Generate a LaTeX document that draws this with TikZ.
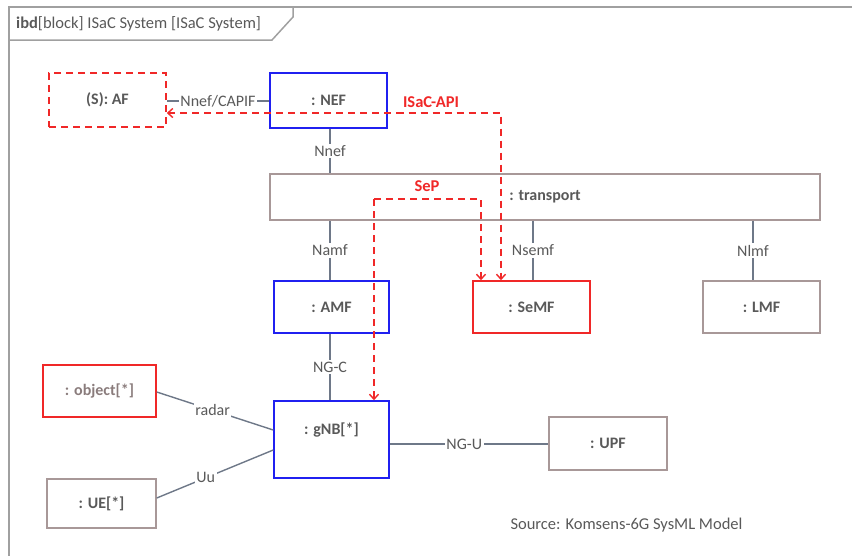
\documentclass[tikz,border=0pt]{standalone}
\usepackage{fontspec}
\setmainfont{Carlito}
\usetikzlibrary{arrows.meta}
\definecolor{boxgray}{HTML}{A89898}
\definecolor{txtgray}{HTML}{595959}
\definecolor{objgray}{HTML}{8A7C7C}
\definecolor{linegray}{HTML}{6E7888}
\definecolor{myblue}{HTML}{2020F0}
\definecolor{myred}{HTML}{F02828}
\definecolor{framegray}{HTML}{A0A0A0}
\tikzset{
  part/.style={draw=boxgray, line width=1.5pt, text=txtgray, font=\bfseries\fontsize{16}{18}\selectfont, inner sep=0pt},
  bluepart/.style={part, draw=myblue},
  redpart/.style={part, draw=myred},
  conn/.style={draw=linegray, line width=1.4pt},
  clabel/.style={fill=white, text=txtgray, font=\fontsize{16}{18}\selectfont, inner sep=1.5pt},
  redflow/.style={draw=myred, line width=1.5pt, dash pattern=on 7pt off 5pt, -{Straight Barb[length=5pt,width=9pt,line width=1.4pt]}},
  redlabel/.style={text=myred, font=\bfseries\fontsize{16.5}{18}\selectfont}
}
\begin{document}
\begin{tikzpicture}[x=1pt,y=-1pt]
\useasboundingbox (0,0) rectangle (852,555);
% frame
\draw[framegray, line width=2.2pt] (9,556) -- (9,7) -- (853,7);
\draw[framegray, line width=1.5pt] (9,40) -- (272,40) -- (293,17) -- (293,7);
\node[anchor=west, text=txtgray, font=\fontsize{16.5}{18}\selectfont, inner sep=0pt] (title) at (16,24) {\textbf{ibd}[block] ISaC System [ISaC System]};
% parts
\node[redpart, dash pattern=on 7pt off 5pt, minimum width=117, minimum height=54] (af) at (107.5,100) {(S): AF};
\node[bluepart, minimum width=117, minimum height=55] (nef) at (328.5,100.5) {: NEF};
\node[part, minimum width=550, minimum height=46] (tr) at (545,197) {: transport};
\node[bluepart, minimum width=115, minimum height=52] (amf) at (331.5,307) {: AMF};
\node[redpart, minimum width=117, minimum height=52] (semf) at (531.5,307) {: SeMF};
\node[part, minimum width=117, minimum height=52] (lmf) at (761.5,307) {: LMF};
\node[redpart, text=objgray, minimum width=113, minimum height=52] (obj) at (99.5,391) {: object[*]};
\node[bluepart, minimum width=115, minimum height=77] (gnb) at (331.5,439.5) {};
\node[text=txtgray, font=\bfseries\fontsize{16}{18}\selectfont] (gnbt) at (331.5,430) {: gNB[*]};
\node[part, minimum width=109, minimum height=49] (ue) at (101.5,503.5) {: UE[*]};
\node[part, minimum width=118, minimum height=53] (upf) at (608,443.5) {: UPF};
\node[text=txtgray, font=\fontsize{16.5}{18}\selectfont, inner sep=0pt] (src) at (626.5,525) {Source: Komsens-6G SysML Model};
% connectors
\draw[conn] (af.east |- 0,101) -- node[clabel] {Nnef/CAPIF} (nef.west |- 0,101);
\draw[conn] (nef.south -| 330,0) -- node[clabel] {Nnef} (tr.north -| 330,0);
\draw[conn] (tr.south -| 330,0) -- node[clabel] {Namf} (amf.north -| 330,0);
\draw[conn] (tr.south -| 533,0) -- node[clabel] {Nsemf} (semf.north -| 533,0);
\draw[conn] (tr.south -| 753,0) -- node[clabel] {Nlmf} (lmf.north -| 753,0);
\draw[conn] (amf.south -| 330,0) -- node[clabel] {NG-C} (gnb.north -| 330,0);
\draw[conn] (obj.east |- 0,392) -- node[clabel, pos=0.48] {radar} (gnb.west |- 0,430);
\draw[conn] (ue.east |- 0,498) -- node[clabel, pos=0.42] {Uu} (gnb.west |- 0,450);
\draw[conn] (gnb.east |- 0,444) -- node[clabel, pos=0.47] {NG-U} (upf.west |- 0,444);
% red flows
\coordinate (c1) at (501,113);
\coordinate (c2) at (374,199);
\coordinate (c3) at (481,199);
\draw[redflow, {Straight Barb[length=5pt,width=9pt,line width=1.4pt]}-{Straight Barb[length=5pt,width=9pt,line width=1.4pt]}] (af.east |- c1) -- (c1) -- (semf.north -| c1);
\node[redlabel] (isac) at (431,102) {ISaC-API};
\draw[redflow] (c2) -- (c3) -- (semf.north -| c3);
\draw[redflow] (c2) -- (gnb.north -| c2);
\node[redlabel] (sep) at (427,186) {SeP};
\end{tikzpicture}
\end{document}
